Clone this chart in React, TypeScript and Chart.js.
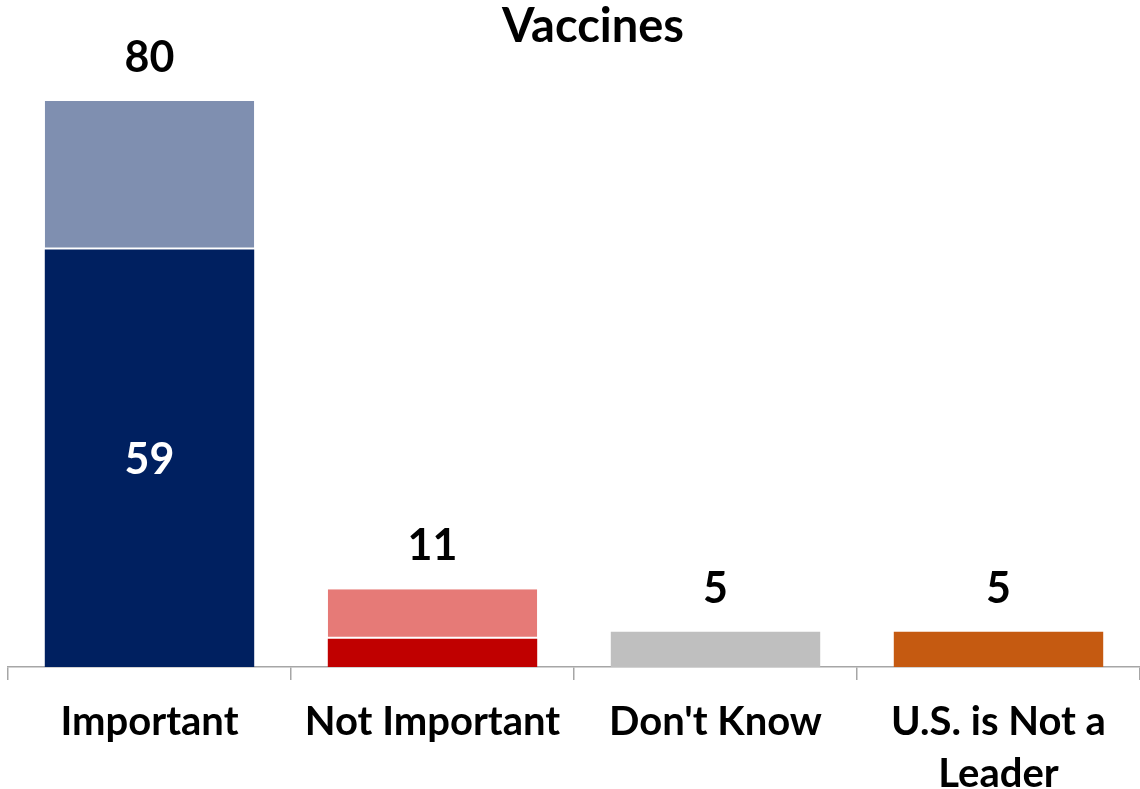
import React, { useEffect, useRef } from "react";
import { Chart, registerables } from "chart.js";

Chart.register(...registerables);

const TITLE = "Vaccines";
const categories: (string | string[])[] = ["Important", "Not Important", "Don't Know", ["U.S. is Not a", "Leader"]];
const strongValues = [59, 4, 5, 5];
const softValues: (number | null)[] = [21, 7, null, null];
const strongColors = ["#002060", "#C00000", "#BFBFBF", "#C55A11"];
const softColors = ["#7F8FB0", "#E67A77", "#BFBFBF", "#C55A11"];

const FONT = "Lato, 'Open Sans', sans-serif";

export default function App() {
  const ref = useRef<HTMLCanvasElement | null>(null);

  useEffect(() => {
    if (!ref.current) return;
    const labelPlugin = {
      id: "valueLabels",
      afterDatasetsDraw(chart: any) {
        const ctx = chart.ctx;
        ctx.save();
        ctx.textAlign = "center";
        ctx.textBaseline = "middle";
        // title
        ctx.fillStyle = "#000";
        ctx.font = `bold 47px ${FONT}`;
        ctx.fillText(TITLE, 593, 27);
        const m0 = chart.getDatasetMeta(0);
        const m1 = chart.getDatasetMeta(1);
        categories.forEach((_, i) => {
          const total = strongValues[i] + (softValues[i] ?? 0);
          const b0 = m0.data[i];
          const topY = softValues[i] != null ? m1.data[i].y : b0.y;
          ctx.fillStyle = "#000";
          ctx.font = `bold 43px ${FONT}`;
          ctx.fillText(String(total), b0.x, topY - 43);
          const segH = b0.base - b0.y;
          if (softValues[i] != null && segH > 100) {
            ctx.fillStyle = "#fff";
            ctx.fillText(String(strongValues[i]), b0.x, (b0.y + b0.base) / 2 + 2);
          }
        });
        ctx.restore();
      },
    };

    const chart = new Chart(ref.current, {
      type: "bar",
      data: {
        labels: categories,
        datasets: [
          {
            data: strongValues,
            backgroundColor: strongColors,
            borderWidth: 0,
            barPercentage: 0.74,
            categoryPercentage: 1,
          },
          {
            data: softValues,
            backgroundColor: softColors,
            borderColor: "#ffffff",
            borderSkipped: false,
            borderWidth: { top: 0, left: 0, right: 0, bottom: 2 },
            barPercentage: 0.74,
            categoryPercentage: 1,
          },
        ],
      },
      options: {
        animation: false,
        responsive: false,
        maintainAspectRatio: false,
        layout: { padding: { top: 101, left: 8, right: 0, bottom: 0 } },
        plugins: {
          legend: { display: false },
          title: { display: false },
          tooltip: { enabled: false },
        },
        scales: {
          x: {
            stacked: true,
            offset: true,
            afterFit: (s: any) => {
              s.height = 122;
            },
            border: { display: true, color: "#A6A6A6", width: 1.5 },
            grid: {
              display: true,
              drawOnChartArea: false,
              drawTicks: true,
              tickLength: 13,
              color: "#A6A6A6",
              lineWidth: 1.5,
              offset: true,
            },
            ticks: {
              color: "#000",
              padding: 16,
              font: { family: FONT, size: 40, weight: "bold", lineHeight: 1.3 },
              maxRotation: 0,
              autoSkip: false,
            },
          },
          y: {
            stacked: true,
            display: false,
            min: 0,
            max: 80,
          },
        },
      },
      plugins: [labelPlugin],
    });
    return () => chart.destroy();
  }, []);

  return (
    <div style={{ position: "absolute", left: 0, top: 0, width: 1140, height: 789, background: "#fff" }}>
      <canvas ref={ref} width={1140} height={789} style={{ width: 1140, height: 789, display: "block" }} />
    </div>
  );
}
